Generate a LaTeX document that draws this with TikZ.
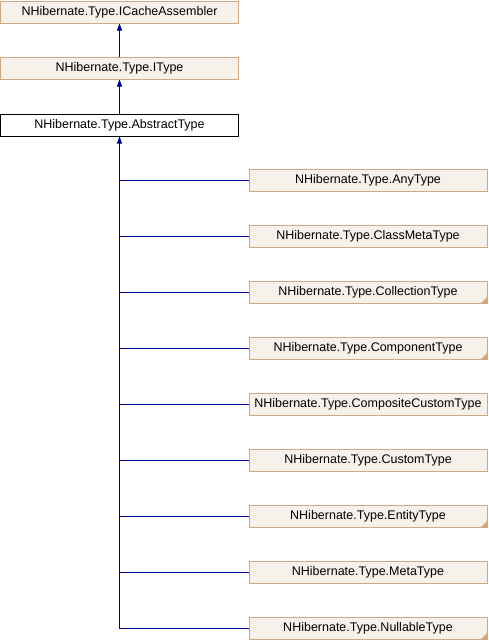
\documentclass[tikz,border=0pt]{standalone}
\usepackage{fontspec}
\setmainfont{Liberation Sans}
\usetikzlibrary{arrows.meta}
\definecolor{boxfill}{RGB}{246,241,235}
\definecolor{boxline}{RGB}{211,168,128}
\definecolor{edgeblue}{RGB}{0,0,153}
\begin{document}
\begin{tikzpicture}[x=1pt,y=-1pt,
  cls/.style={draw=boxline, fill=boxfill, line width=1pt, minimum width=238pt, minimum height=22pt, inner sep=0pt, font=\fontsize{12.5}{14}\selectfont},
  cur/.style={cls, draw=black, fill=white},
  edge/.style={draw=edgeblue, line width=1pt},
  inh/.style={edge, -{Triangle[length=7pt,width=5pt]}}]
\useasboundingbox (0,0) rectangle (488,640);
\node[cls] (icache) at (119.5,12) {NHibernate.Type.ICacheAssembler};
\node[cls] (itype) at (119.5,68) {NHibernate.Type.IType};
\node[cur] (abstract) at (119.5,125) {NHibernate.Type.AbstractType};
\node[cls] (any) at (368,180) {NHibernate.Type.AnyType};
\node[cls] (classmeta) at (368,236) {NHibernate.Type.ClassMetaType};
\node[cls] (collection) at (368,292) {NHibernate.Type.CollectionType};
\node[cls] (component) at (368,348) {NHibernate.Type.ComponentType};
\node[cls] (composite) at (368,404) {NHibernate.Type.CompositeCustomType};
\node[cls] (custom) at (368,460) {NHibernate.Type.CustomType};
\node[cls] (entity) at (368,516) {NHibernate.Type.EntityType};
\node[cls] (meta) at (368,572) {NHibernate.Type.MetaType};
\node[cls] (nullable) at (368,628) {NHibernate.Type.NullableType};
\foreach \n in {collection,component,entity,nullable}
  \fill[boxline] ([xshift=-0.5pt,yshift=0.5pt]\n.south east) -- ++(-6,0) -- ++(6,-6) -- cycle;
\draw[inh] (itype) -- (icache);
\draw[inh] (abstract) -- (itype);
\foreach \n in {any,classmeta,collection,component,composite,custom,entity,meta,nullable}
  \draw[edge] (\n.west) -| (abstract.south);
\draw[inh] ([yshift=-20pt]abstract.south) -- (abstract.south);
\end{tikzpicture}
\end{document}
